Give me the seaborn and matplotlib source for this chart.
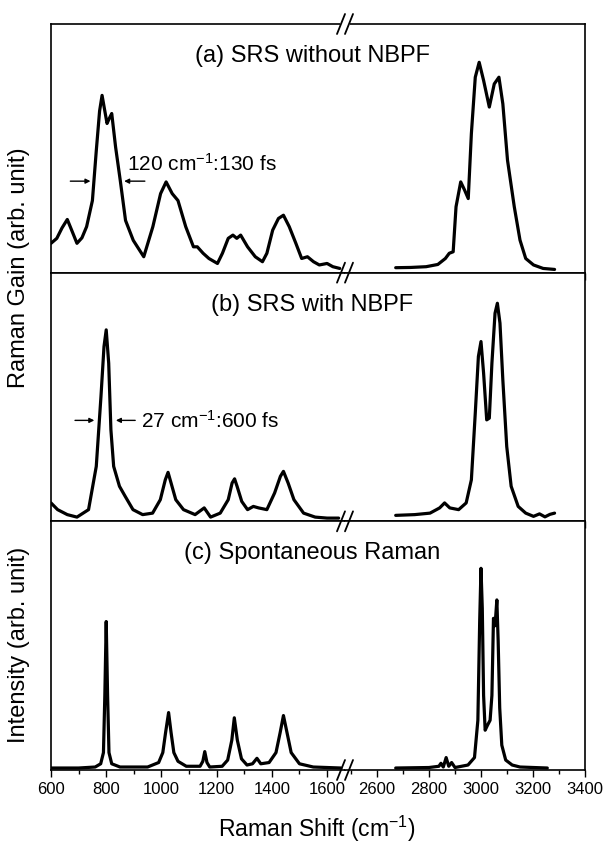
import matplotlib
matplotlib.use("Agg")
import matplotlib.pyplot as plt
from matplotlib.lines import Line2D
from matplotlib.ticker import MultipleLocator
import seaborn as sns

# ---------------------------------------------------------------
# Data (intensity as fraction of panel height)
# ---------------------------------------------------------------
a_low_x = [600, 621, 640, 659, 677, 694, 712, 729, 750, 764, 776, 785, 795, 803, 811, 820,
           834, 851, 870, 898, 936, 969, 997, 1017, 1039, 1060, 1088, 1116, 1130, 1151,
           1172, 1203, 1221, 1242, 1259, 1273, 1287, 1312, 1340, 1366, 1382, 1403, 1424,
           1442, 1463, 1487, 1508, 1529, 1551, 1572, 1600, 1621, 1646]
a_low_y = [0.118, 0.138, 0.18, 0.214, 0.165, 0.118, 0.14, 0.185, 0.29, 0.49, 0.65, 0.713,
           0.65, 0.60, 0.62, 0.64, 0.505, 0.37, 0.21, 0.13, 0.064, 0.185, 0.318, 0.365,
           0.318, 0.29, 0.185, 0.104, 0.104, 0.078, 0.057, 0.037, 0.078, 0.138, 0.151,
           0.138, 0.151, 0.104, 0.064, 0.044, 0.078, 0.171, 0.218, 0.231, 0.185, 0.118,
           0.057, 0.064, 0.044, 0.031, 0.037, 0.024, 0.017]
a_high_x = [2672, 2730, 2789, 2834, 2863, 2878, 2893, 2904, 2922, 2937, 2951, 2963, 2978,
            2993, 3010, 3032, 3051, 3069, 3084, 3102, 3128, 3150, 3172, 3202, 3239, 3283]
a_high_y = [0.02, 0.021, 0.024, 0.033, 0.057, 0.078, 0.084, 0.265, 0.365, 0.332, 0.298,
            0.559, 0.786, 0.846, 0.773, 0.666, 0.759, 0.786, 0.679, 0.452, 0.265, 0.131,
            0.057, 0.031, 0.017, 0.013]

b_low_x = [600, 624, 659, 694, 736, 764, 781, 792, 800, 809, 817, 827, 848, 869, 897, 932,
           968, 996, 1014, 1024, 1035, 1052, 1080, 1122, 1155, 1178, 1213, 1242, 1256, 1265,
           1274, 1291, 1312, 1333, 1352, 1382, 1410, 1431, 1442, 1459, 1480, 1515, 1557,
           1600, 1642]
b_low_y = [0.074, 0.047, 0.027, 0.017, 0.047, 0.221, 0.502, 0.703, 0.77, 0.636, 0.368,
           0.221, 0.141, 0.10, 0.047, 0.027, 0.033, 0.087, 0.167, 0.197, 0.154, 0.087,
           0.047, 0.027, 0.054, 0.017, 0.033, 0.087, 0.154, 0.171, 0.141, 0.080, 0.047,
           0.060, 0.054, 0.047, 0.114, 0.181, 0.201, 0.154, 0.087, 0.033, 0.017, 0.013,
           0.013]
b_high_x = [2672, 2745, 2804, 2841, 2860, 2880, 2914, 2943, 2963, 2978, 2990, 3000, 3010,
            3022, 3032, 3042, 3054, 3063, 3073, 3084, 3099, 3116, 3143, 3172, 3202, 3225,
            3246, 3265, 3283]
b_high_y = [0.024, 0.027, 0.033, 0.054, 0.074, 0.054, 0.047, 0.074, 0.167, 0.435, 0.663,
            0.723, 0.596, 0.408, 0.415, 0.636, 0.837, 0.877, 0.797, 0.569, 0.301, 0.141,
            0.060, 0.033, 0.020, 0.030, 0.018, 0.028, 0.033]

c_low_x = [600, 700, 760, 780, 790, 795, 800, 805, 810, 820, 850, 950, 990, 1005, 1015,
           1026, 1035, 1045, 1060, 1090, 1140, 1150, 1157, 1165, 1175, 1220, 1240, 1255,
           1264, 1275, 1290, 1310, 1330, 1346, 1360, 1390, 1415, 1430, 1442, 1455, 1470,
           1500, 1550, 1650]
c_low_y = [0.008, 0.008, 0.012, 0.025, 0.07, 0.3, 0.597, 0.3, 0.07, 0.025, 0.012, 0.012,
           0.03, 0.07, 0.15, 0.231, 0.15, 0.07, 0.035, 0.015, 0.015, 0.035, 0.074, 0.03,
           0.012, 0.015, 0.04, 0.12, 0.21, 0.12, 0.045, 0.02, 0.025, 0.047, 0.025, 0.03,
           0.07, 0.15, 0.219, 0.15, 0.07, 0.025, 0.012, 0.008]
c_high_x = [2672, 2800, 2838, 2846, 2855, 2866, 2876, 2887, 2900, 2950, 2975, 2988, 2995,
            3000, 3005, 3010, 3016, 3025, 3035, 3042, 3048, 3054, 3061, 3066, 3072, 3080,
            3095, 3120, 3150, 3255]
c_high_y = [0.008, 0.01, 0.015, 0.027, 0.012, 0.05, 0.015, 0.03, 0.01, 0.02, 0.05, 0.2,
            0.6, 0.811, 0.65, 0.3, 0.16, 0.18, 0.2, 0.3, 0.61, 0.58, 0.684, 0.52, 0.25, 0.1,
            0.04, 0.02, 0.012, 0.008]

panel_titles = ["(a) SRS without NBPF", "(b) SRS with NBPF", "(c) Spontaneous Raman"]
low_ticks = [600, 800, 1000, 1200, 1400, 1600]
high_ticks = [2600, 2800, 3000, 3200, 3400]

# ---------------------------------------------------------------
sns.set_style("white")
plt.rcParams['font.family'] = ['Liberation Sans', 'DejaVu Sans']
plt.rcParams['mathtext.fontset'] = 'custom'
plt.rcParams['mathtext.rm'] = 'Liberation Sans'
plt.rcParams['mathtext.it'] = 'Liberation Sans'
plt.rcParams['text.color'] = 'black'
plt.rcParams['xtick.color'] = 'black'
plt.rcParams['axes.labelcolor'] = 'black'

fig = plt.figure(figsize=(6.06, 8.43), dpi=100)

W, H = 606.0, 843.0
x_left, x_break, x_right = 51, 345, 585
y_top, y_bot = 24, 770
ph = (y_bot - y_top) / 3.0

series = [(a_low_x, a_low_y, a_high_x, a_high_y),
          (b_low_x, b_low_y, b_high_x, b_high_y),
          (c_low_x, c_low_y, c_high_x, c_high_y)]

axes = []
for i, (lx, ly, hx, hy) in enumerate(series):
    top_px = y_top + i * ph
    bottom = 1 - (top_px + ph) / H
    ax1 = fig.add_axes([x_left / W, bottom, (x_break - x_left) / W, ph / H])
    ax2 = fig.add_axes([x_break / W, bottom, (x_right - x_break) / W, ph / H])
    sns.lineplot(x=lx, y=ly, ax=ax1, color='black', lw=2.3, sort=False, estimator=None)
    sns.lineplot(x=hx, y=hy, ax=ax2, color='black', lw=2.3, sort=False, estimator=None)
    ax1.set_xlim(600, 1665)
    ax2.set_xlim(2477, 3400)
    for ax in (ax1, ax2):
        ax.set_ylim(0, 1)
        ax.set_yticks([])
        ax.set_ylabel('')
        ax.tick_params(axis='x', which='major', direction='out', length=5, width=1,
                       labelsize=12, pad=4, bottom=True, top=False)
        ax.tick_params(axis='x', which='minor', direction='out', length=3, width=1,
                       bottom=True, top=False)
        ax.xaxis.set_minor_locator(MultipleLocator(100))
        for s in ax.spines.values():
            s.set_color('black')
            s.set_linewidth(1.2)
    ax1.set_xticks(low_ticks)
    ax2.set_xticks(high_ticks)
    ax1.spines['right'].set_visible(False)
    ax2.spines['left'].set_visible(False)
    if i < 2:
        ax1.set_xticklabels([])
        ax2.set_xticklabels([])
    axes.append((ax1, ax2))

    # panel title
    fig.text(0.515, 1 - (top_px + 32) / H, panel_titles[i], ha='center', va='center',
             fontsize=17)

# break marks "//"
def break_mark(y_px):
    for dx in (-4, 4):
        xc = x_break + dx
        fig.add_artist(Line2D([(xc - 4) / W, (xc + 4) / W],
                              [1 - (y_px + 10) / H, 1 - (y_px - 10) / H],
                              color='black', lw=1.3, transform=fig.transFigure))

fig.add_artist(Line2D([(x_break - 3) / W, (x_break + 3) / W],
                      [1 - y_top / H, 1 - y_top / H], color='white', lw=3,
                      transform=fig.transFigure))
break_mark(y_top)
for i in range(1, 4):
    break_mark(y_top + i * ph)

# FWHM annotations
arrow_kw = dict(arrowstyle='-|>', color='black', lw=1, mutation_scale=7,
                shrinkA=0, shrinkB=0)
ax_a = axes[0][0]
ax_a.annotate('', xy=(743, 0.368), xytext=(670, 0.368), arrowprops=arrow_kw)
ax_a.annotate('', xy=(865, 0.368), xytext=(940, 0.368), arrowprops=arrow_kw)
ax_a.text(876, 0.438, '120 cm$^{-1}$:130 fs', fontsize=15, va='center', ha='left')

ax_b = axes[1][0]
ax_b.annotate('', xy=(757, 0.406), xytext=(687, 0.406), arrowprops=arrow_kw)
ax_b.annotate('', xy=(835, 0.406), xytext=(905, 0.406), arrowprops=arrow_kw)
ax_b.text(926, 0.406, '27 cm$^{-1}$:600 fs', fontsize=15, va='center', ha='left')

# axis labels
fig.text(19 / W, 1 - 268 / H, 'Raman Gain (arb. unit)', rotation=90, ha='center',
         va='center', fontsize=17)
fig.text(19 / W, 1 - 645 / H, 'Intensity (arb. unit)', rotation=90, ha='center',
         va='center', fontsize=17)
fig.text(317 / W, 1 - 829 / H, 'Raman Shift (cm$^{-1}$)', ha='center', va='center',
         fontsize=16.5)

plt.savefig('out.png', dpi=100)
